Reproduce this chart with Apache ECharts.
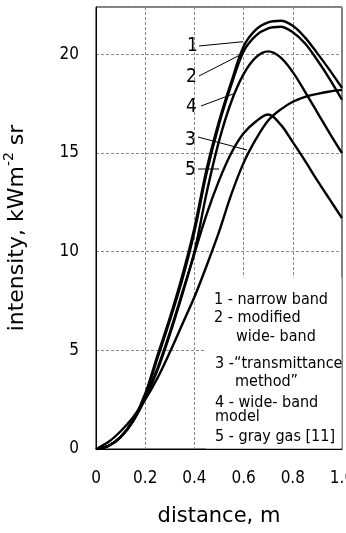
<!DOCTYPE html>
<html><head><meta charset="utf-8">
<script src="https://cdn.jsdelivr.net/npm/echarts@6/dist/echarts.min.js"></script>
<style>html,body{margin:0;padding:0;background:#fff}#c{width:346px;height:533px}</style>
</head><body><div id="c"></div>
<script>
// sampled distance (m)
const distance = [0,0.05,0.1,0.15,0.2,0.25,0.3,0.35,0.4,0.45,0.5,0.55,0.6,0.65,0.7,0.75,0.8,0.85,0.9,0.95,1.0];
// intensity, kW m^-2 sr
const narrowBand        = [0,0.15,0.6,1.45,2.8,4.75,6.65,8.75,11.2,14.2,16.6,18.6,20.4,21.25,21.62,21.7,21.45,20.85,20.05,19.2,18.3];
const modifiedWideBand  = [0,0.15,0.6,1.4,2.7,4.6,6.5,8.55,11.0,14.0,16.45,18.45,20.15,20.95,21.32,21.4,21.12,20.55,19.7,18.75,17.7];
const wideBandModel     = [0,0.15,0.6,1.4,2.6,4.1,5.9,7.9,10.0,13.0,15.6,17.6,19.0,19.85,20.15,19.85,19.1,18.1,17.05,16.0,15.0];
const grayGas           = [0,0.15,0.62,1.4,2.55,4.0,5.8,7.8,9.9,11.9,13.6,15.0,16.0,16.6,16.95,16.45,15.55,14.6,13.6,12.65,11.7];
const transmittance     = [0,0.35,0.9,1.6,2.5,3.6,4.9,6.3,7.7,9.3,11.0,12.9,14.5,15.7,16.65,17.2,17.6,17.85,18.0,18.12,18.2];

const xTickValues = [0,0.2,0.4,0.6,0.8,1.0];
const xTickLabels = ['0','0.2','0.4','0.6','0.8','1.0'];
const yTickValues = [0,5,10,15,20];
const yTickLabels = ['0','5','10','15','20'];

const legendLines = ['1 - narrow band','2 - modified','wide- band','3 -\u201Ctransmittance','method\u201D','4 - wide- band','model','5 - gray gas [11]'];
const curveNumbers = ['1','2','4','3','5'];

const seriesList = [
  {name:'narrow band', values:narrowBand},
  {name:'modified wide-band', values:modifiedWideBand},
  {name:'wide-band model', values:wideBandModel},
  {name:'gray gas [11]', values:grayGas},
  {name:'transmittance method', values:transmittance}
];

const chart = echarts.init(document.getElementById('c'), null, {renderer:'canvas'});

const legendPos = [[214,300],[214,318],[236,336.5],[215,364],[235,381.5],[215,403],[215,416.5],[215,436.5]];
const numberPos = [[192.5,46.5],[191.5,77.5],[191.5,107.5],[190.5,140.5],[190.5,170.5]];
const leaders = [[199,46,243,41.7],[199,76,240,55],[201,106,233,94],[198,137,247,150],[198,169,219,169]];

const graphic = [
  {type:'rect', z:1, shape:{x:206, y:277.5, width:135.5, height:171}, style:{fill:'#fff'}, silent:true}
];
legendLines.forEach((t,i)=>graphic.push({type:'text', z:5, x:legendPos[i][0], y:legendPos[i][1],
  style:{text:t, font:'16px "DejaVu Sans Condensed"', fill:'#000', align:'left', verticalAlign:'middle'}}));
curveNumbers.forEach((t,i)=>graphic.push({type:'text', z:5, x:numberPos[i][0], y:numberPos[i][1],
  style:{text:t, font:'19px "DejaVu Sans Condensed"', fill:'#000', align:'center', verticalAlign:'middle'}}));
leaders.forEach(l=>graphic.push({type:'line', z:5, shape:{x1:l[0],y1:l[1],x2:l[2],y2:l[3]}, style:{stroke:'#000', lineWidth:1}}));

const gridLineStyle = {color:'#8a8a8a', width:1, type:[3,2]};
const tickFont = 'DejaVu Sans Condensed';

chart.setOption({
  animation:false,
  backgroundColor:'#fff',
  grid:{left:96, right:4, top:7, bottom:84, containLabel:false, outerBoundsMode:'none',
        show:true, borderColor:'#000', borderWidth:1, backgroundColor:'transparent'},
  xAxis:{
    type:'value', min:0, max:1, interval:0.2,
    name:'distance, m', nameLocation:'middle', nameGap:57,
    nameTextStyle:{fontFamily:'DejaVu Sans', fontSize:21, color:'#000'},
    axisLine:{show:true, onZero:false, lineStyle:{color:'#000', width:1}},
    axisTick:{show:false},
    axisLabel:{margin:21, fontFamily:tickFont, fontSize:17, color:'#000',
      formatter:v=>{const i=xTickValues.findIndex(t=>Math.abs(t-v)<1e-6); return i>=0?xTickLabels[i]:'';}},
    splitLine:{show:true, lineStyle:gridLineStyle}
  },
  yAxis:{
    type:'value', min:0, max:22.4, interval:5,
    name:'intensity, kWm{sup|-2} sr', nameLocation:'middle', nameGap:64, nameRotate:90,
    nameTextStyle:{fontFamily:'DejaVu Sans', fontSize:22, color:'#000', lineHeight:30,
      rich:{sup:{fontFamily:'DejaVu Sans', fontSize:14, lineHeight:14, verticalAlign:'top', color:'#000'}}},
    axisLine:{show:true, lineStyle:{color:'#000', width:1}},
    axisTick:{show:false},
    axisLabel:{margin:17, fontFamily:tickFont, fontSize:17, color:'#000',
      formatter:v=>{const i=yTickValues.indexOf(v); return i>=0?yTickLabels[i]:'';}},
    splitLine:{show:true, lineStyle:gridLineStyle}
  },
  series: seriesList.map(s=>({
    name:s.name, type:'line', smooth:0.35, showSymbol:false, z:3,
    lineStyle:{color:'#000', width:2.4},
    data: distance.map((x,i)=>[x, s.values[i]])
  })),
  graphic: graphic
});
</script></body></html>
